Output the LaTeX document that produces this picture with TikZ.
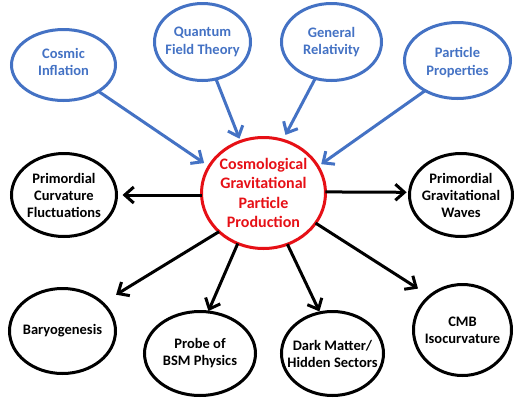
\documentclass[tikz,border=0pt]{standalone}
\usepackage{fontspec}
\setmainfont{Carlito}
\usetikzlibrary{arrows.meta,shapes.geometric}
\definecolor{inblue}{RGB}{68,114,196}
\definecolor{hubred}{RGB}{230,16,22}
\tikzset{
  bubble/.style 2 args={ellipse, line width=3pt, inner sep=0pt, outer sep=0pt,
    minimum width=#1, minimum height=#2},
  inbub/.style={draw=inblue},
  outbub/.style={draw=black},
  intxt/.style={align=center, text=inblue, font=\bfseries\fontsize{14.5}{17.5}\selectfont},
  outtxt/.style={align=center, text=black, font=\bfseries\fontsize{14.5}{17}\selectfont},
  hubtxt/.style={align=center, text=hubred, font=\bfseries\fontsize{16}{19.5}\selectfont},
  arr/.style={line width=3pt, -{Straight Barb[length=9pt,width=16pt]}},
  inarr/.style={arr, draw=inblue},
  outarr/.style={arr, draw=black},
}
\begin{document}
\begin{tikzpicture}[x=1pt,y=-1pt]
\useasboundingbox (0,0) rectangle (515,400);
% inputs
\node[bubble={104pt}{71pt}, inbub, label={[intxt, yshift=3pt]center:Cosmic\\Inflation}] (ci) at (63.5,65) {};
\node[bubble={96pt}{77pt}, inbub, label={[intxt]center:Quantum\\Field Theory}] (qft) at (202.5,42) {};
\node[bubble={100pt}{77pt}, inbub, label={[intxt]center:General\\Relativity}] (gr) at (331.5,42) {};
\node[bubble={106pt}{76pt}, inbub, label={[intxt, yshift=-2pt]center:Particle\\Properties}] (pp) at (457.5,60.5) {};
% hub
\node[bubble={124pt}{111pt}, draw=hubred, label={[hubtxt]center:Cosmological\\Gravitational\\Particle\\Production}] (hub) at (263.5,193) {};
% outputs
\node[bubble={105pt}{83pt}, outbub, label={[outtxt]center:Primordial\\Curvature\\Fluctuations}] (pcf) at (64,195) {};
\node[bubble={103pt}{83pt}, outbub, label={[outtxt]center:Primordial\\Gravitational\\Waves}] (pgw) at (461,195) {};
\node[bubble={106pt}{85pt}, outbub, label={[outtxt]center:Baryogenesis}] (bary) at (62.5,331) {};
\node[bubble={111pt}{84pt}, outbub, label={[outtxt]center:Probe of\\BSM Physics}] (bsm) at (200,353.5) {};
\node[bubble={102pt}{84pt}, outbub, label={[outtxt]center:Dark Matter/\\Hidden Sectors}] (dm) at (332.5,353.5) {};
\node[bubble={98pt}{91pt}, outbub, label={[outtxt]center:CMB\\Isocurvature}] (cmb) at (462.5,330) {};
% incoming arrows
\draw[inarr, shorten >=6pt] (ci.-37.5) -- (hub.154);
\draw[inarr, shorten >=3pt] (qft.-70.5) -- (hub.114.5);
\draw[inarr, shorten >=6pt] (gr.-114.8) -- (hub.70.3);
\draw[inarr, shorten >=4pt] (pp.-137.4) -- (hub.26);
% outgoing arrows
\draw[outarr, shorten >=6pt] (hub.west |- pcf.east) -- (pcf.east);
\draw[outarr, shorten >=3pt] (hub.1) -- (pgw.177);
\draw[outarr, shorten >=16pt] (hub.-139.7) -- (bary.35.6);
\draw[outarr, shorten >=1pt] (hub.-117.8) -- (bsm.79.6);
\draw[outarr, shorten >=1.5pt] (hub.-65.6) -- (dm.107.2);
\draw[outarr, shorten >=14pt] (hub.-30.4) -- (cmb.134.7);
\end{tikzpicture}
\end{document}
